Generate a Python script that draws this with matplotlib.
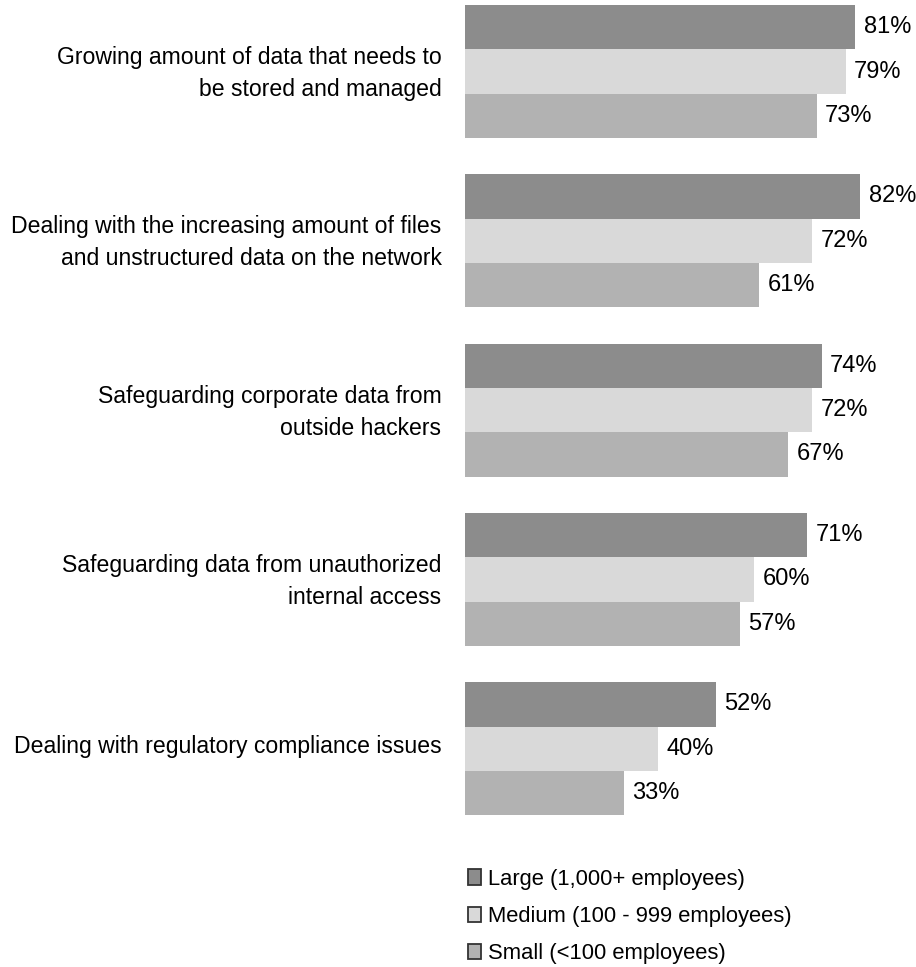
import matplotlib
matplotlib.use("Agg")
import matplotlib.pyplot as plt
import matplotlib.transforms as mtransforms
from matplotlib.patches import Patch
import numpy as np

plt.rcParams['font.family'] = ['Liberation Sans', 'DejaVu Sans']

categories = [
    "Growing amount of data that needs to\nbe stored and managed",
    "Dealing with the increasing amount of files\nand unstructured data on the network",
    "Safeguarding corporate data from\noutside hackers",
    "Safeguarding data from unauthorized\ninternal access",
    "Dealing with regulatory compliance issues",
]
series_names = [
    "Large (1,000+ employees)",
    "Medium (100 - 999 employees)",
    "Small (<100 employees)",
]
large = [81, 82, 74, 71, 52]
medium = [79, 72, 72, 60, 40]
small = [73, 61, 67, 57, 33]
colors = ["#8c8c8c", "#d9d9d9", "#b2b2b2"]

W, H = 916, 967
fig = plt.figure(figsize=(W / 100, H / 100), dpi=100)

# axes: bars start at x=465 px, scale ~4.82 px per percent
left_px, axes_bottom_px = 465, 850
ax = fig.add_axes([left_px / W, (H - axes_bottom_px) / H, (W - left_px) / W, axes_bottom_px / H])
ax.set_xlim(0, (W - left_px) / 4.82)

group_px = 169.3
first_center_px = 71.5
bar_h = 44.3 / group_px
ax.set_ylim((axes_bottom_px - first_center_px) / group_px, -first_center_px / group_px)

y = np.arange(len(categories))
offsets = [-bar_h, 0, bar_h]
for vals, off, col in zip([large, medium, small], offsets, colors):
    bars = ax.barh(y + off, vals, height=bar_h, color=col, edgecolor="none")
    ax.bar_label(bars, labels=[f"{v}%" for v in vals], padding=6,
                 fontsize=17, color="#000000")

ax.set_yticks(y)
ax.set_yticklabels(categories, fontsize=16.6, linespacing=1.5, ha="right")
ax.tick_params(axis="y", length=0, pad=17)
# nudge category labels slightly upward
lift = mtransforms.ScaledTranslation(0, 5 / 100, fig.dpi_scale_trans)
for lbl in ax.get_yticklabels():
    lbl.set_transform(lbl.get_transform() + lift)
ax.set_xticks([])
for s in ax.spines.values():
    s.set_visible(False)

handles = [Patch(facecolor=c, edgecolor="#333333", linewidth=1.3) for c in colors]
fig.legend(handles, series_names, loc="upper left",
           bbox_to_anchor=(450 / W, (H - 851) / H), frameon=False,
           fontsize=15.8, handlelength=0.6, handleheight=0.7,
           handletextpad=0.35, labelspacing=0.75, borderpad=0.3)

fig.savefig("out.png", dpi=100)
